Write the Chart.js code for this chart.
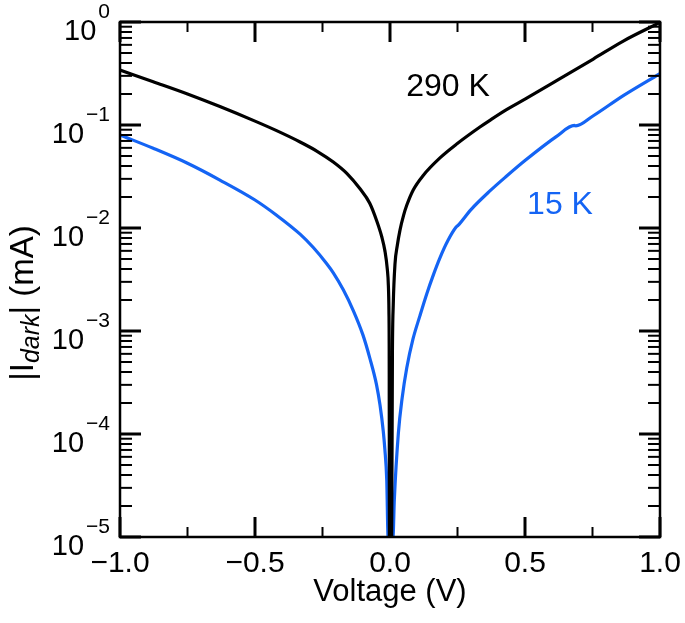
<!DOCTYPE html>
<html>
<head>
<meta charset="utf-8">
<script src="https://cdn.jsdelivr.net/npm/chart.js@4.4.1/dist/chart.umd.min.js"></script>
<style>
  html, body { margin: 0; padding: 0; background: #fff; }
  #wrap { width: 685px; height: 623px; }
</style>
</head>
<body>
<div id="wrap"><canvas id="chart-idark" width="685" height="623"></canvas></div>
<script>
/* ── data (V, mA) ──────────────────────────────────────────── */
const volt290 = [-1.0, -0.877, -0.75, -0.63, -0.5, -0.42, -0.333, -0.27, -0.21, -0.16, -0.111, -0.075, -0.049, -0.03, -0.019, -0.01, -0.006, -0.004, -0.003, -0.002,
                 0.006, 0.009, 0.012, 0.0185, 0.027, 0.037, 0.05, 0.062, 0.086, 0.123, 0.185, 0.247, 0.333, 0.37, 0.43, 0.5, 0.617, 0.753, 0.864, 1.0];
const curr290 = [0.342, 0.263, 0.200, 0.151, 0.109, 0.0881, 0.0684, 0.0556, 0.0437, 0.0339, 0.0240, 0.0174, 0.0117, 0.00813, 0.00603, 0.00398, 0.00275, 0.00158, 0.000631, 0.00001,
                 0.00001, 0.000631, 0.00178, 0.00447, 0.00676, 0.00955, 0.0132, 0.0166, 0.0234, 0.0324, 0.0479, 0.0653, 0.0955, 0.111, 0.140, 0.178, 0.269, 0.437, 0.653, 0.989];

const volt15 = [-1.0, -0.877, -0.75, -0.63, -0.5, -0.42, -0.333, -0.284, -0.235, -0.21, -0.173, -0.136, -0.1, -0.074, -0.05, -0.037, -0.025, -0.019, -0.012, -0.007,
                0.011, 0.016, 0.031, 0.045, 0.062, 0.085, 0.111, 0.136, 0.16, 0.185, 0.215, 0.245, 0.252, 0.30, 0.37, 0.43, 0.5, 0.617, 0.683, 0.688, 0.753, 0.864, 1.0];
const curr15 = [0.0800, 0.0594, 0.0425, 0.0292, 0.0187, 0.0133, 0.00871, 0.00646, 0.00452, 0.00367, 0.00251, 0.00158, 0.000912, 0.000537, 0.000302, 0.000191, 0.000107, 0.0000708, 0.0000355, 0.00001,
                0.00001, 0.0000229, 0.000102, 0.000224, 0.000437, 0.000832, 0.00141, 0.00229, 0.00347, 0.00513, 0.00759, 0.0102, 0.0106, 0.0151, 0.0229, 0.0316, 0.0452, 0.0776, 0.0990, 0.0980, 0.123, 0.193, 0.316];

/* ── axes ─────────────────────────────────────────────────── */
const xMajor      = [-1, -0.5, 0, 0.5, 1];
const xTickLabels = ['\u22121.0', '\u22120.5', '0.0', '0.5', '1.0'];
const xMinor      = [-0.75, -0.25, 0.25, 0.75];
const yDecades    = [1, 0.1, 0.01, 0.001, 0.0001, 0.00001];
const yTickExp    = ['0', '\u22121', '\u22122', '\u22123', '\u22124', '\u22125'];

const BLUE = '#1464f4';
const FONT = '"Liberation Sans", Arial, Helvetica, sans-serif';

const pts = (xs, ys) => xs.map((v, i) => ({ x: v, y: ys[i] }));

/* ── frame, inward ticks, labels ──────────────────────────── */
const framePlugin = {
  id: 'frame',
  afterDatasetsDraw(chart) {
    const { ctx, chartArea: a, scales: { x, y } } = chart;
    ctx.save();
    ctx.strokeStyle = '#000';
    ctx.lineCap = 'butt';

    function seg(x1, y1, x2, y2, w) {
      ctx.lineWidth = w;
      ctx.beginPath(); ctx.moveTo(x1, y1); ctx.lineTo(x2, y2); ctx.stroke();
    }

    // x ticks (bottom + top)
    xMajor.forEach(v => {
      const px = x.getPixelForValue(v);
      seg(px, a.bottom, px, a.bottom - 20, 3);
      seg(px, a.top, px, a.top + 20, 3);
    });
    xMinor.forEach(v => {
      const px = x.getPixelForValue(v);
      seg(px, a.bottom, px, a.bottom - 10, 2);
      seg(px, a.top, px, a.top + 10, 2);
    });

    // y ticks (left + right)
    yDecades.forEach(d => {
      const py = y.getPixelForValue(d);
      seg(a.left, py, a.left + 21, py, 3);
      seg(a.right, py, a.right - 21, py, 3);
      if (d >= 1) return;
      for (let m = 2; m <= 9; m++) {
        const pm = y.getPixelForValue(d * m);
        seg(a.left, pm, a.left + 12, pm, 2);
        seg(a.right, pm, a.right - 12, pm, 2);
      }
    });

    // frame
    ctx.lineWidth = 2.5;
    ctx.strokeRect(a.left, a.top, a.right - a.left, a.bottom - a.top);

    // x tick labels
    ctx.fillStyle = '#000';
    ctx.font = '30px ' + FONT;
    ctx.textAlign = 'center';
    ctx.textBaseline = 'alphabetic';
    xMajor.forEach((v, i) => {
      ctx.fillText(xTickLabels[i], x.getPixelForValue(v), a.bottom + 35);
    });

    // y tick labels 10^n
    yDecades.forEach((d, i) => {
      const py = y.getPixelForValue(d);
      ctx.font = '21px ' + FONT;
      ctx.textAlign = 'right';
      const supW = ctx.measureText(yTickExp[i]).width;
      ctx.fillText(yTickExp[i], 110, py - 4);
      ctx.font = '29px ' + FONT;
      ctx.fillText('10', 110 - supW - 2, py + 18);
    });

    // x title
    ctx.font = '31px ' + FONT;
    ctx.textAlign = 'center';
    ctx.fillText('Voltage (V)', (a.left + a.right) / 2, 601);

    // y title |I_dark| (mA)
    ctx.translate(24, 303);
    ctx.rotate(-Math.PI / 2);
    ctx.textAlign = 'left';
    ctx.textBaseline = 'middle';
    const parts = [
      { t: '|I', f: '33px ' + FONT, dy: 0 },
      { t: 'dark', f: 'italic 25px ' + FONT, dy: 8 },
      { t: '| (mA)', f: '33px ' + FONT, dy: 0 },
    ];
    let total = 0;
    parts.forEach(p => { ctx.font = p.f; p.w = ctx.measureText(p.t).width; total += p.w; });
    let cx = -total / 2;
    parts.forEach(p => { ctx.font = p.f; ctx.fillText(p.t, cx, p.dy); cx += p.w; });
    ctx.setTransform(1, 0, 0, 1, 0, 0);

    // curve labels
    ctx.textBaseline = 'alphabetic';
    ctx.font = '32px ' + FONT;
    ctx.textAlign = 'center';
    ctx.fillStyle = '#000';
    ctx.fillText('290 K', 448, 96);
    ctx.fillStyle = BLUE;
    ctx.fillText('15 K', 560, 214);

    ctx.restore();
  }
};

new Chart(document.getElementById('chart-idark'), {
  type: 'line',
  data: {
    datasets: [
      {
        label: '290 K',
        data: pts(volt290, curr290),
        borderColor: '#000',
        borderWidth: 3.2,
        pointRadius: 0,
        cubicInterpolationMode: 'monotone',
      },
      {
        label: '15 K',
        data: pts(volt15, curr15),
        borderColor: BLUE,
        borderWidth: 3.2,
        pointRadius: 0,
        cubicInterpolationMode: 'monotone',
      },
    ]
  },
  options: {
    responsive: false,
    animation: false,
    layout: { padding: { left: 120, top: 22, right: 25, bottom: 86 } },
    plugins: {
      legend: { display: false },
      tooltip: { enabled: false },
    },
    scales: {
      x: { type: 'linear', min: -1, max: 1, display: false },
      y: { type: 'logarithmic', min: 1e-5, max: 1, display: false },
    }
  },
  plugins: [framePlugin]
});
</script>
</body>
</html>
